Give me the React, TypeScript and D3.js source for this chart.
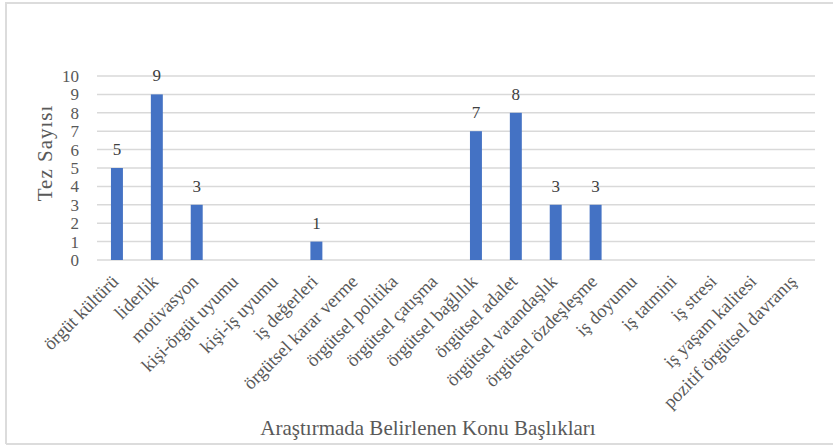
import { useEffect, useRef } from "react"
import * as d3 from "d3"

const categories = [
  "örgüt kültürü",
  "liderlik",
  "motivasyon",
  "kişi-örgüt uyumu",
  "kişi-iş uyumu",
  "iş değerleri",
  "örgütsel karar verme",
  "örgütsel politika",
  "örgütsel çatışma",
  "örgütsel bağlılık",
  "örgütsel adalet",
  "örgütsel vatandaşlık",
  "örgütsel özdeşleşme",
  "iş doyumu",
  "iş tatmini",
  "iş stresi",
  "iş yaşam kalitesi",
  "pozitif örgütsel davranış",
]

const counts = [5, 9, 3, 0, 0, 1, 0, 0, 0, 7, 8, 3, 3, 0, 0, 0, 0, 0]

const yTicks = [0, 1, 2, 3, 4, 5, 6, 7, 8, 9, 10]

const W = 833
const H = 448
const FONT = "'Liberation Serif', 'Times New Roman', serif"
const TEXT = "#595959"

export default function App() {
  const svgRef = useRef<SVGSVGElement>(null)

  useEffect(() => {
    if (!svgRef.current) return
    const svg = d3.select(svgRef.current)
    svg.selectAll("*").remove()

    const margin = { top: 76, right: 18, bottom: 188, left: 97 }
    const innerWidth = W - margin.left - margin.right
    const innerHeight = H - margin.top - margin.bottom

    // frame
    svg.append("rect").attr("width", W).attr("height", H).attr("fill", "#fff")
    svg
      .append("path")
      .attr("d", `M6,${H - 4} L6,3 L${W},3 M6,${H - 4} L${W},${H - 4}`)
      .attr("fill", "none")
      .attr("stroke", "#dcdcdc")
      .attr("stroke-width", 2)

    const g = svg.append("g").attr("transform", `translate(${margin.left},${margin.top})`)

    const x = d3.scaleBand().domain(categories).range([0, innerWidth]).paddingInner(0.7).paddingOuter(0.35)
    const y = d3.scaleLinear().domain([0, 10]).range([innerHeight, 0])

    // grid
    g.append("g")
      .selectAll("line")
      .data(yTicks)
      .enter()
      .append("line")
      .attr("x1", 0)
      .attr("x2", innerWidth)
      .attr("y1", (d) => y(d))
      .attr("y2", (d) => y(d))
      .attr("stroke", "#d9d9d9")
      .attr("stroke-width", 1.5)

    // y tick labels
    g.append("g")
      .selectAll("text")
      .data(yTicks)
      .enter()
      .append("text")
      .attr("x", -18)
      .attr("y", (d) => y(d))
      .attr("dy", "0.35em")
      .attr("text-anchor", "end")
      .attr("fill", TEXT)
      .attr("font-family", FONT)
      .attr("font-size", 17)
      .text((d) => d)

    // bars
    g.append("g")
      .selectAll("rect")
      .data(categories)
      .enter()
      .append("rect")
      .attr("x", (d) => x(d)!)
      .attr("y", (_, i) => y(counts[i]))
      .attr("width", x.bandwidth())
      .attr("height", (_, i) => innerHeight - y(counts[i]))
      .attr("fill", "#4472c4")

    // value labels
    g.append("g")
      .selectAll("text")
      .data(categories.filter((_, i) => counts[i] > 0))
      .enter()
      .append("text")
      .attr("x", (d) => x(d)! + x.bandwidth() / 2)
      .attr("y", (d) => y(counts[categories.indexOf(d)]) - 13)
      .attr("text-anchor", "middle")
      .attr("fill", "#404040")
      .attr("font-family", FONT)
      .attr("font-size", 17)
      .text((d) => counts[categories.indexOf(d)])

    // category labels
    g.append("g")
      .selectAll("text")
      .data(categories)
      .enter()
      .append("text")
      .attr(
        "transform",
        (d) => `translate(${x(d)! + x.bandwidth() / 2 - 2},${innerHeight + 18}) rotate(-45)`
      )
      .attr("text-anchor", "end")
      .attr("dy", "0.35em")
      .attr("fill", TEXT)
      .attr("font-family", FONT)
      .attr("font-size", 18.5)
      .text((d) => d)

    // axis titles
    svg
      .append("text")
      .attr("x", 428)
      .attr("y", 435)
      .attr("text-anchor", "middle")
      .attr("fill", TEXT)
      .attr("font-family", FONT)
      .attr("font-size", 21)
      .text("Araştırmada Belirlenen Konu Başlıkları")

    svg
      .append("text")
      .attr("transform", `translate(52,153) rotate(-90)`)
      .attr("text-anchor", "middle")
      .attr("fill", TEXT)
      .attr("font-family", FONT)
      .attr("font-size", 21)
      .attr("letter-spacing", 1)
      .text("Tez Sayısı")
  }, [])

  return (
    <svg
      ref={svgRef}
      width={W}
      height={H}
      style={{ display: "block", position: "absolute", left: 0, top: 0 }}
    />
  )
}
